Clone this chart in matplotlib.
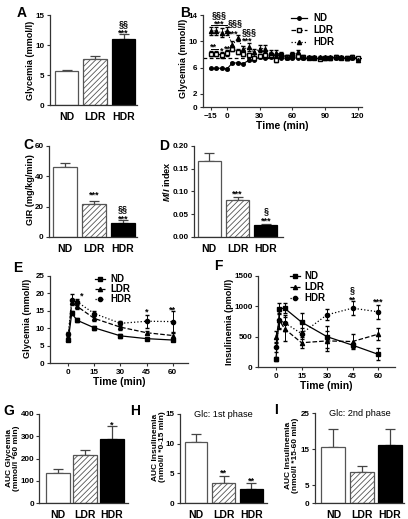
import matplotlib
matplotlib.use('Agg')
import matplotlib.pyplot as plt
from matplotlib.lines import Line2D

plt.rcParams['font.family'] = ['Liberation Sans', 'DejaVu Sans']
plt.rcParams['font.weight'] = 'bold'
plt.rcParams['axes.labelweight'] = 'bold'
plt.rcParams['hatch.linewidth'] = 0.6
plt.rcParams['mathtext.fontset'] = 'custom'
plt.rcParams['mathtext.it'] = 'Liberation Sans:italic:bold'
plt.rcParams['mathtext.rm'] = 'Liberation Sans:bold'

# ---------------- data ----------------
groups = ['ND', 'LDR', 'HDR']

# A: fasting glycemia
A_vals = [5.7, 7.7, 11.0]
A_err = [0.15, 0.5, 0.9]

# B: clamp glycemia time course
B_time = [-15, -10, -5, 0, 5, 10, 15, 20, 25, 30, 35, 40, 45, 50, 55, 60, 65, 70,
          75, 80, 85, 90, 95, 100, 105, 110, 115, 120]
B_ND = [5.9, 5.9, 5.9, 5.8, 6.7, 6.7, 6.6, 7.1, 7.2, 7.6, 7.5, 7.6, 7.4, 7.5, 7.4, 7.4,
        7.5, 7.4, 7.5, 7.4, 7.4, 7.4, 7.4, 7.5, 7.5, 7.4, 7.5, 7.4]
B_ND_err = [0.1] * 28
B_LDR = [8.1, 8.1, 7.9, 8.2, 8.9, 8.4, 8.0, 7.9, 7.4, 7.7, 7.9, 7.9, 7.2, 7.9, 7.6, 7.9,
         7.7, 7.6, 7.5, 7.5, 7.3, 7.4, 7.4, 7.6, 7.5, 7.4, 7.6, 7.4]
B_LDR_err = [0.4, 0.4, 0.4, 0.4, 0.4, 0.4, 0.3, 0.3, 0.3, 0.3, 0.3, 0.3, 0.3, 0.3, 0.3, 0.3,
             0.3, 0.2, 0.2, 0.2, 0.2, 0.2, 0.2, 0.2, 0.2, 0.2, 0.2, 0.2]
B_HDR = [11.6, 11.6, 11.3, 11.6, 9.4, 10.5, 8.8, 9.1, 8.3, 8.9, 8.9, 8.2, 8.2, 8.0, 7.6, 8.0,
         8.3, 7.6, 7.6, 7.6, 7.6, 7.6, 7.6, 7.6, 7.6, 7.5, 7.6, 7.2]
B_HDR_err = [0.6, 0.6, 0.7, 0.6, 0.6, 0.5, 0.5, 0.6, 0.5, 0.5, 0.5, 0.4, 0.4, 0.3, 0.3, 0.4,
             0.4, 0.3, 0.2, 0.2, 0.2, 0.2, 0.2, 0.3, 0.2, 0.2, 0.3, 0.2]
B_target = 7.4

# C: GIR
C_vals = [46.0, 21.5, 9.5]
C_err = [3.0, 2.0, 1.5]

# D: M/I index
D_vals = [0.167, 0.082, 0.026]
D_err = [0.018, 0.005, 0.003]

# E: glycemia during GTT
E_time = [0, 2, 5, 15, 30, 45, 60]
E_ND = [6.6, 14.3, 12.3, 10.1, 7.8, 7.0, 6.6]
E_ND_err = [0.4, 0.5, 0.5, 0.6, 0.5, 0.3, 0.4]
E_LDR = [7.0, 17.5, 16.3, 12.8, 10.3, 8.7, 7.9]
E_LDR_err = [0.4, 0.6, 0.7, 0.8, 0.7, 0.5, 0.7]
E_HDR = [8.3, 18.2, 17.6, 14.2, 11.4, 12.0, 11.9]
E_HDR_err = [0.5, 1.6, 0.8, 0.7, 0.8, 1.8, 2.9]

# F: insulinemia during GTT
F_ND = [130, 960, 970, 740, 500, 360, 210]
F_ND_err = [30, 90, 80, 150, 180, 40, 100]
F_LDR = [500, 770, 630, 400, 430, 420, 540]
F_LDR_err = [100, 150, 200, 90, 170, 120, 100]
F_HDR = [330, 770, 730, 550, 860, 970, 910]
F_HDR_err = [80, 120, 130, 90, 90, 120, 120]

# G, H, I: AUCs
G_vals = [133, 215, 287]
G_err = [20, 22, 57]
H_vals = [10.2, 3.4, 2.4]
H_err = [1.5, 1.2, 1.0]
I_vals = [15.5, 8.6, 16.0]
I_err = [5.0, 1.7, 4.5]

# ---------------- figure ----------------
W, H = 408, 519
fig = plt.figure(figsize=(W / 100, H / 100), dpi=100)

SP = '#333333'
TICK_FS = 5.8
YL_FS = 6.6
STAR_FS = 6.5


def axpx(l, t, r, b):
    ax = fig.add_axes([l / W, 1 - b / H, (r - l) / W, (b - t) / H])
    ax.spines['top'].set_visible(False)
    ax.spines['right'].set_visible(False)
    for s in ('left', 'bottom'):
        ax.spines[s].set_linewidth(0.9)
        ax.spines[s].set_color(SP)
    ax.tick_params(colors=SP, labelcolor='black', labelsize=TICK_FS, width=0.8, length=2.5, pad=1.5)
    ax.patch.set_alpha(0)
    return ax


def ftext(x, y, s, **kw):
    return fig.text(x / W, 1 - y / H, s, **kw)


def note(ax, x, y, s, star=True, fs=STAR_FS):
    ax.annotate(s, (x, y), xytext=(0, -2.0 if star else 0), textcoords='offset points',
                ha='center', va='center', fontsize=fs, annotation_clip=False)


bar_styles = [dict(facecolor='white', edgecolor='#555555', hatch=None),
              dict(facecolor='white', edgecolor='#555555', hatch='//////'),
              dict(facecolor='black', edgecolor='black', hatch=None)]


def barpanel(ax, vals, errs, xlim, ylim, yticks, width=0.82, cap=3.5):
    for i, (v, e) in enumerate(zip(vals, errs)):
        st = bar_styles[i]
        ax.bar(i, v, width=width, facecolor=st['facecolor'], edgecolor=st['edgecolor'],
               hatch=st['hatch'], linewidth=0.9, zorder=2)
        ax.errorbar(i, v, yerr=[[0], [e]], fmt='none', ecolor='#444444', elinewidth=0.9,
                    capsize=cap, capthick=0.9, zorder=1)
    ax.set_xlim(xlim)
    ax.set_ylim(ylim)
    ax.set_yticks(yticks)
    ax.set_xticks(range(3))
    ax.set_xticklabels(groups, fontsize=7.5)
    ax.tick_params(axis='x', length=0, pad=5)


def legend_rows(x0, x1, xt, ys, specs):
    for y, (lab, ls, mk, mfc, ms) in zip(ys, specs):
        yy = 1 - y / H
        fig.add_artist(Line2D([x0 / W, (x0 + x1) / 2 / W, x1 / W], [yy, yy, yy], transform=fig.transFigure,
                              color='black', lw=0.9, ls=ls, marker=mk, markevery=[1],
                              mfc=mfc, mec='black', ms=ms))
        fig.text(xt / W, yy, lab, fontsize=7, va='center', ha='left')


def ylab(x, y, s, fs=YL_FS, **kw):
    ftext(x, y, s, rotation=90, ha='center', va='center', fontsize=fs, **kw)


# ---- A ----
axA = axpx(50, 15, 137, 105)
barpanel(axA, A_vals, A_err, (-0.58, 2.47), (0, 15), [0, 5, 10, 15])
note(axA, 2, 13.5, '§§', star=False)
note(axA, 2, 12.4, '***')
ylab(31, 60, 'Glycemia (mmol/l)')
ftext(22, 13, 'A', fontsize=10, ha='center', va='center')

# ---- B ----
axB = axpx(203, 15, 362, 107)
axB.axhline(B_target, ls='--', color='black', lw=0.9, dashes=(3, 2), zorder=1)
axB.errorbar(B_time, B_ND, yerr=B_ND_err, color='black', lw=0.8, ls='-', marker='o', ms=2.5,
             capsize=1.2, elinewidth=0.6)
axB.errorbar(B_time, B_LDR, yerr=B_LDR_err, color='black', lw=0.8, ls='--', marker='s', ms=2.5,
             mfc='white', capsize=1.2, elinewidth=0.6)
axB.errorbar(B_time, B_HDR, yerr=B_HDR_err, color='black', lw=0.8, ls=':', marker='^', ms=3,
             capsize=1.2, elinewidth=0.6)
axB.set_xlim(-22, 124)
axB.set_ylim(0, 14)
axB.set_yticks([0, 2, 6, 10, 14])
axB.set_xticks([-15, 0, 30, 60, 90, 120])
axB.set_xlabel('Time (min)', fontsize=7.5, labelpad=1)
note(axB, -7.5, 14.0, '§§§', star=False)
note(axB, -7.5, 13.0, '***')
axB.plot([-15, 0], [12.5, 12.5], color='black', lw=0.7, clip_on=False)
note(axB, 8, 12.8, '§§§', star=False)
note(axB, 5.5, 11.6, '***')
note(axB, 20, 11.5, '§§§', star=False)
note(axB, 18.5, 10.5, '***')
note(axB, -12.5, 9.5, '**')
axB.plot([-15, -8], [8.9, 8.9], color='black', lw=0.7)
note(axB, -5, 9.0, '*')
note(axB, 0, 9.3, '**')
note(axB, 4.5, 9.6, '*')
legend_rows(291, 307, 313, [18, 30, 42],
            [('ND', '-', 'o', 'black', 2.5), ('LDR', '--', 's', 'white', 2.5),
             ('HDR', ':', '^', 'black', 3)])
ylab(183, 58, 'Glycemia (mmol/l)')
ftext(185, 13, 'B', fontsize=10, ha='center', va='center')

# ---- C ----
axC = axpx(49, 146, 137, 237)
barpanel(axC, C_vals, C_err, (-0.56, 2.49), (0, 60), [0, 20, 40, 60])
note(axC, 1, 29.7, '***')
note(axC, 2, 18.5, '§§', star=False)
note(axC, 2, 13.8, '***')
ylab(31, 190, 'GIR (mg/kg/min)')
ftext(28, 145, 'C', fontsize=10, ha='center', va='center')

# ---- D ----
axD = axpx(194, 146, 283, 237)
barpanel(axD, D_vals, D_err, (-0.54, 2.61), (0, 0.20), [0, 0.05, 0.10, 0.15, 0.20])
axD.set_yticklabels(['0.00', '0.05', '0.10', '0.15', '0.20'])
note(axD, 1, 0.101, '***')
note(axD, 2, 0.057, '§', star=False)
note(axD, 2, 0.042, '***')
ylab(166, 182, r'$\mathit{M/I}$ index')
ftext(164, 146, 'D', fontsize=10, ha='center', va='center')

# ---- E ----
axE = axpx(50, 276, 188, 363)
axE.errorbar(E_time, E_ND, yerr=E_ND_err, color='black', lw=0.9, ls='-', marker='s', ms=3,
             capsize=1.5, elinewidth=0.7)
axE.errorbar(E_time, E_LDR, yerr=E_LDR_err, color='black', lw=0.9, ls='--', marker='^', ms=3,
             capsize=1.5, elinewidth=0.7)
axE.errorbar(E_time, E_HDR, yerr=E_HDR_err, color='black', lw=0.9, ls=':', marker='o', ms=3,
             capsize=1.5, elinewidth=0.7)
axE.set_xlim(-10.5, 68.8)
axE.set_ylim(0, 25)
axE.set_yticks([0, 5, 10, 15, 20, 25])
axE.set_xticks([0, 15, 30, 45, 60])
axE.set_xlabel('Time (min)', fontsize=7.5, labelpad=1)
note(axE, 7.5, 20.0, '*')
note(axE, 45, 15.4, '*')
note(axE, 60, 15.9, '**')
legend_rows(95, 105, 110, [279, 289, 299],
            [('ND', '-', 's', 'black', 3), ('LDR', '--', '^', 'black', 3),
             ('HDR', ':', 'o', 'black', 3)])
ylab(28, 318, 'Glycemia (mmol/l)')
ftext(18, 268, 'E', fontsize=10, ha='center', va='center')

# ---- F ----
axF = axpx(258, 276, 395, 367)
axF.errorbar(E_time, F_ND, yerr=F_ND_err, color='black', lw=0.9, ls='-', marker='s', ms=3,
             capsize=1.5, elinewidth=0.7)
axF.errorbar(E_time, F_LDR, yerr=F_LDR_err, color='black', lw=0.9, ls='--', marker='^', ms=3,
             capsize=1.5, elinewidth=0.7)
axF.errorbar(E_time, F_HDR, yerr=F_HDR_err, color='black', lw=0.9, ls=':', marker='o', ms=3,
             capsize=1.5, elinewidth=0.7)
axF.set_xlim(-10.6, 70)
axF.set_ylim(0, 1500)
axF.set_yticks([0, 500, 1000, 1500])
axF.set_xticks([0, 15, 30, 45, 60])
axF.set_xlabel('Time (min)', fontsize=7.5, labelpad=1)
note(axF, 45, 1279, '§', star=False)
note(axF, 45, 1150, '**')
note(axF, 60, 1118, '***')
legend_rows(290, 300, 304, [276, 287, 298],
            [('ND', '-', 's', 'black', 3), ('LDR', '--', '^', 'black', 3),
             ('HDR', ':', 'o', 'black', 3)])
ylab(229, 322, 'Insulinemia (pmol/l)')
ftext(218, 266, 'F', fontsize=10, ha='center', va='center')

# ---- G ----
axG = axpx(39, 414, 128, 503)
barpanel(axG, G_vals, G_err, (-0.7, 2.59), (0, 400), [0, 100, 200, 300, 400], width=0.86)
axG.tick_params(axis='y', pad=1)
note(axG, 2, 364, '*')
ylab(13, 458, 'AUC Glycemia\n(mmol/l *60 min)', fs=6.0, linespacing=1.05)
ftext(9, 411, 'G', fontsize=10, ha='center', va='center')

# ---- H ----
axH = axpx(180, 414, 267, 503)
barpanel(axH, H_vals, H_err, (-0.58, 2.56), (0, 15), [0, 5, 10, 15])
note(axH, 1, 5.56, '**')
note(axH, 2, 4.2, '**')
axH.set_title('Glc: 1st phase', fontsize=6.6, pad=0, y=0.97)
ylab(159, 447, 'AUC Insulinemia\n(nmol/l *0-15 min)', fs=6.0, linespacing=1.05)
ftext(135, 411, 'H', fontsize=10, ha='center', va='center')

# ---- I ----
axI = axpx(315, 413, 404, 503)
barpanel(axI, I_vals, I_err, (-0.65, 2.5), (0, 25), [0, 5, 15, 25], width=0.85)
axI.set_title('Glc: 2nd phase', fontsize=6.6, pad=0, y=0.97)
ylab(292, 455, 'AUC Insulinemia\n(nmol/l *15-60 min)', fs=6.0, linespacing=1.05)
ftext(276, 410, 'I', fontsize=10, ha='center', va='center')

fig.savefig('out.png', dpi=100)
